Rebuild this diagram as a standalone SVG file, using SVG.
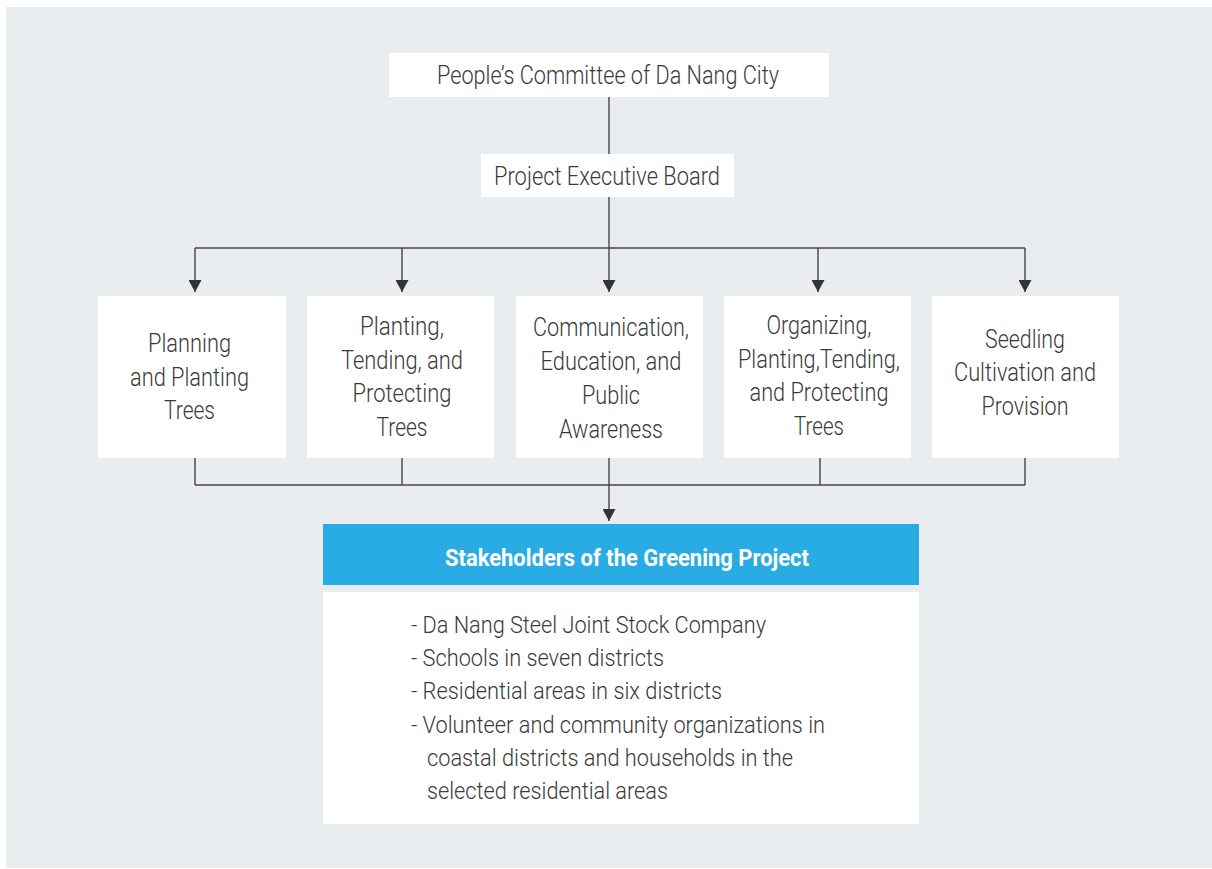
<svg xmlns="http://www.w3.org/2000/svg" width="1212" height="869" viewBox="0 0 1212 869">
<defs>
<style>
.bg{fill:#e9edf0}
.box{fill:#ffffff}
.t{font-family:Roboto,"Liberation Sans",sans-serif;font-weight:300;font-size:26px;fill:#3a3a3a;text-anchor:middle}
.l{font-family:Roboto,"Liberation Sans",sans-serif;font-weight:300;font-size:23.5px;fill:#3a3a3a}
.h{font-family:Roboto,"Liberation Sans",sans-serif;font-weight:700;font-size:24px;fill:#ffffff;text-anchor:middle}
.c{fill:none;stroke:#444444;stroke-width:1.4}
</style>
<marker id="arr" viewBox="0 0 12 13" refX="12" refY="6.5" markerWidth="12" markerHeight="13" markerUnits="userSpaceOnUse" orient="auto">
<path d="M0,0 L12,6.5 L0,13 Z" fill="#333333"/>
</marker>
</defs>
<rect class="bg" x="6" y="7" width="1206" height="861"/>
<g id="connectors">
<line class="c" x1="609" y1="97" x2="609" y2="154"/>
<line class="c" x1="609" y1="197" x2="609" y2="248"/>
<line class="c" x1="195" y1="248" x2="1025" y2="248"/>
<line class="c" x1="195" y1="248" x2="195" y2="292" marker-end="url(#arr)"/>
<line class="c" x1="402" y1="248" x2="402" y2="292" marker-end="url(#arr)"/>
<line class="c" x1="609" y1="248" x2="609" y2="292" marker-end="url(#arr)"/>
<line class="c" x1="818" y1="248" x2="818" y2="292" marker-end="url(#arr)"/>
<line class="c" x1="1025" y1="248" x2="1025" y2="292" marker-end="url(#arr)"/>
<line class="c" x1="195" y1="458" x2="195" y2="485"/>
<line class="c" x1="402" y1="458" x2="402" y2="485"/>
<line class="c" x1="820" y1="458" x2="820" y2="485"/>
<line class="c" x1="1025" y1="458" x2="1025" y2="485"/>
<line class="c" x1="195" y1="485" x2="1025" y2="485"/>
<line class="c" x1="609" y1="458" x2="609" y2="521" marker-end="url(#arr)"/>
</g>
<g id="n-committee">
<rect class="box" x="389" y="53" width="440" height="44"/>
<text class="t" x="608" y="84" textLength="342" lengthAdjust="spacingAndGlyphs">People’s Committee of Da Nang City</text>
</g>
<g id="n-board">
<rect class="box" x="481" y="154" width="253" height="43"/>
<text class="t" x="607" y="185" textLength="226" lengthAdjust="spacingAndGlyphs">Project Executive Board</text>
</g>
<g id="n-planning">
<rect class="box" x="98" y="296" width="188" height="162"/>
<text class="t" x="189.5" y="352" textLength="83" lengthAdjust="spacingAndGlyphs">Planning</text>
<text class="t" x="189.5" y="386" textLength="119" lengthAdjust="spacingAndGlyphs">and Planting</text>
<text class="t" x="189.5" y="419" textLength="51" lengthAdjust="spacingAndGlyphs">Trees</text>
</g>
<g id="n-planting">
<rect class="box" x="307" y="296" width="187" height="162"/>
<text class="t" x="402" y="335" textLength="84" lengthAdjust="spacingAndGlyphs">Planting,</text>
<text class="t" x="402" y="369" textLength="122" lengthAdjust="spacingAndGlyphs">Tending, and</text>
<text class="t" x="402" y="402" textLength="99" lengthAdjust="spacingAndGlyphs">Protecting</text>
<text class="t" x="402" y="436" textLength="51" lengthAdjust="spacingAndGlyphs">Trees</text>
</g>
<g id="n-communication">
<rect class="box" x="516" y="296" width="187" height="162"/>
<text class="t" x="611" y="336" textLength="156" lengthAdjust="spacingAndGlyphs">Communication,</text>
<text class="t" x="611" y="370" textLength="141" lengthAdjust="spacingAndGlyphs">Education, and</text>
<text class="t" x="611" y="404" textLength="58" lengthAdjust="spacingAndGlyphs">Public</text>
<text class="t" x="611" y="438" textLength="104" lengthAdjust="spacingAndGlyphs">Awareness</text>
</g>
<g id="n-organizing">
<rect class="box" x="724" y="296" width="187" height="162"/>
<text class="t" x="819" y="334" textLength="105" lengthAdjust="spacingAndGlyphs">Organizing,</text>
<text class="t" x="819" y="368" textLength="162" lengthAdjust="spacingAndGlyphs">Planting,Tending,</text>
<text class="t" x="819" y="401" textLength="139" lengthAdjust="spacingAndGlyphs">and Protecting</text>
<text class="t" x="819" y="435" textLength="50" lengthAdjust="spacingAndGlyphs">Trees</text>
</g>
<g id="n-seedling">
<rect class="box" x="932" y="296" width="187" height="162"/>
<text class="t" x="1025" y="348" textLength="80" lengthAdjust="spacingAndGlyphs">Seedling</text>
<text class="t" x="1025" y="381" textLength="142" lengthAdjust="spacingAndGlyphs">Cultivation and</text>
<text class="t" x="1025" y="415" textLength="87" lengthAdjust="spacingAndGlyphs">Provision</text>
</g>
<g id="n-stakeholders">
<rect x="323" y="524" width="596" height="61" fill="#29ace3"/>
<text class="h" x="627" y="566" textLength="364" lengthAdjust="spacingAndGlyphs">Stakeholders of the Greening Project</text>
<rect class="box" x="323" y="592" width="596" height="232"/>
<text class="l" x="411" y="633" textLength="355" lengthAdjust="spacingAndGlyphs">- Da Nang Steel Joint Stock Company</text>
<text class="l" x="411" y="666" textLength="253" lengthAdjust="spacingAndGlyphs">- Schools in seven districts</text>
<text class="l" x="411" y="699" textLength="311" lengthAdjust="spacingAndGlyphs">- Residential areas in six districts</text>
<text class="l" x="411" y="733" textLength="414" lengthAdjust="spacingAndGlyphs">- Volunteer and community organizations in</text>
<text class="l" x="427" y="766" textLength="366" lengthAdjust="spacingAndGlyphs">coastal districts and households in the</text>
<text class="l" x="427" y="799" textLength="241" lengthAdjust="spacingAndGlyphs">selected residential areas</text>
</g>
</svg>
